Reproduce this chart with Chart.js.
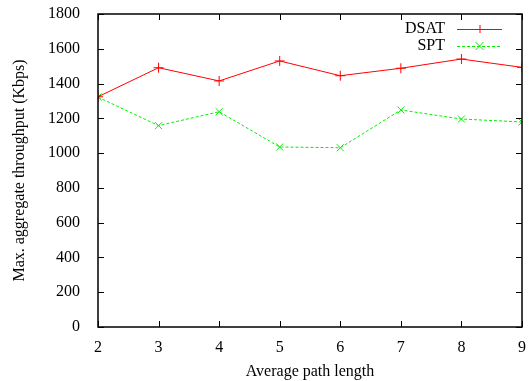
<!DOCTYPE html>
<html>
<head>
<meta charset="utf-8">
<script src="https://cdn.jsdelivr.net/npm/chart.js@4/dist/chart.umd.min.js"></script>
<style>
  html, body { margin: 0; padding: 0; background: #fff; }
  #wrap { width: 530px; height: 381px; }
</style>
</head>
<body>
<div id="wrap"><canvas id="myChart" width="530" height="381"></canvas></div>
<script>
// данные графика
const pathLengths = [2, 3, 4, 5, 6, 7, 8, 9];
const dsatValues = [1324, 1491, 1415, 1530, 1445, 1488, 1541, 1493];
const sptValues  = [1322, 1158, 1238, 1035, 1031, 1248, 1196, 1179];
const yTicks = [0, 200, 400, 600, 800, 1000, 1200, 1400, 1600, 1800];

const FONT = 'Liberation Serif, Times New Roman, serif';

// рамка и внутренние засечки как в gnuplot
const gnuplotFrame = {
  id: 'gnuplotFrame',
  afterDatasetsDraw(chart) {
    const { ctx, chartArea, scales } = chart;
    const { left, right, top, bottom } = chartArea;
    ctx.save();
    ctx.strokeStyle = '#000';
    ctx.lineWidth = 1;
    ctx.beginPath();
    scales.x.ticks.forEach(t => {
      const px = Math.round(scales.x.getPixelForValue(t.value)) + 0.5;
      ctx.moveTo(px, bottom); ctx.lineTo(px, bottom - 6);
      ctx.moveTo(px, top); ctx.lineTo(px, top + 6);
    });
    scales.y.ticks.forEach(t => {
      const py = Math.round(scales.y.getPixelForValue(t.value)) + 0.5;
      ctx.moveTo(left, py); ctx.lineTo(left + 6, py);
      ctx.moveTo(right, py); ctx.lineTo(right - 6, py);
    });
    ctx.stroke();
    ctx.lineWidth = 1.5;
    ctx.strokeRect(left, top, right - left, bottom - top);
    ctx.restore();
  }
};

// легенда в стиле gnuplot: текст, затем образец линии
const gnuplotLegend = {
  id: 'gnuplotLegend',
  afterDraw(chart) {
    const { ctx, chartArea } = chart;
    ctx.save();
    ctx.font = '16px ' + FONT;
    ctx.textAlign = 'right';
    ctx.textBaseline = 'middle';
    chart.data.datasets.forEach((ds, i) => {
      const y = chartArea.top + 15 + i * 17;
      const textRight = chartArea.right - 77;
      ctx.fillStyle = '#000';
      ctx.fillText(ds.label, textRight, y);
      const x0 = textRight + 12, x1 = textRight + 57;
      ctx.strokeStyle = ds.borderColor;
      ctx.lineWidth = 1;
      ctx.setLineDash(ds.borderDash || []);
      ctx.beginPath();
      ctx.moveTo(x0, y + 0.5); ctx.lineTo(x1, y + 0.5);
      ctx.stroke();
      ctx.setLineDash([]);
      const cx = (x0 + x1) / 2, r = 4;
      ctx.beginPath();
      if (ds.pointStyle === 'cross') {
        ctx.moveTo(cx - r, y + 0.5); ctx.lineTo(cx + r, y + 0.5);
        ctx.moveTo(cx + 0.5, y - r); ctx.lineTo(cx + 0.5, y + r);
      } else {
        ctx.moveTo(cx - r, y - r); ctx.lineTo(cx + r, y + r);
        ctx.moveTo(cx - r, y + r); ctx.lineTo(cx + r, y - r);
      }
      ctx.stroke();
    });
    ctx.restore();
  }
};

new Chart(document.getElementById('myChart').getContext('2d'), {
  type: 'line',
  data: {
    datasets: [{
      label: 'DSAT',
      data: pathLengths.map((x, i) => ({ x: x, y: dsatValues[i] })),
      borderColor: '#ff0000',
      borderWidth: 1,
      pointStyle: 'cross',
      pointRadius: 5,
      pointBorderColor: '#ff0000',
      pointBorderWidth: 1,
      tension: 0
    }, {
      label: 'SPT',
      data: pathLengths.map((x, i) => ({ x: x, y: sptValues[i] })),
      borderColor: '#00f000',
      borderWidth: 1,
      borderDash: [3, 2],
      pointStyle: 'crossRot',
      pointRadius: 5,
      pointBorderColor: '#00f000',
      pointBorderWidth: 1,
      tension: 0
    }]
  },
  options: {
    responsive: false,
    animation: false,
    layout: { padding: { top: 14, right: 8, left: 0, bottom: 0 } },
    plugins: { legend: { display: false }, tooltip: { enabled: false } },
    scales: {
      x: {
        type: 'linear',
        min: 2, max: 9,
        grid: { display: false },
        border: { display: false },
        ticks: { stepSize: 1, padding: 3, color: '#000', font: { family: FONT, size: 16 } },
        title: { display: true, text: 'Average path length', color: '#000', padding: { top: 7, bottom: 0 }, font: { family: FONT, size: 16 } },
        afterFit(scale) {
          scale.height = 54;
          scale.paddingLeft = 0; scale.paddingRight = 0;
        }
      },
      y: {
        type: 'linear',
        min: 0, max: 1800,
        grid: { display: false },
        border: { display: false },
        afterBuildTicks(scale) { scale.ticks = yTicks.map(v => ({ value: v })); },
        ticks: { padding: 10, color: '#000', font: { family: FONT, size: 16 }, callback: v => String(v) },
        title: { display: true, text: 'Max. aggregate throughput (Kbps)', color: '#000', padding: { top: 10, bottom: 0 }, font: { family: FONT, size: 16 } },
        afterFit(scale) {
          scale.width = 98;
          scale.paddingTop = 0; scale.paddingBottom = 0;
        }
      }
    }
  },
  plugins: [gnuplotFrame, gnuplotLegend]
});
</script>
</body>
</html>
